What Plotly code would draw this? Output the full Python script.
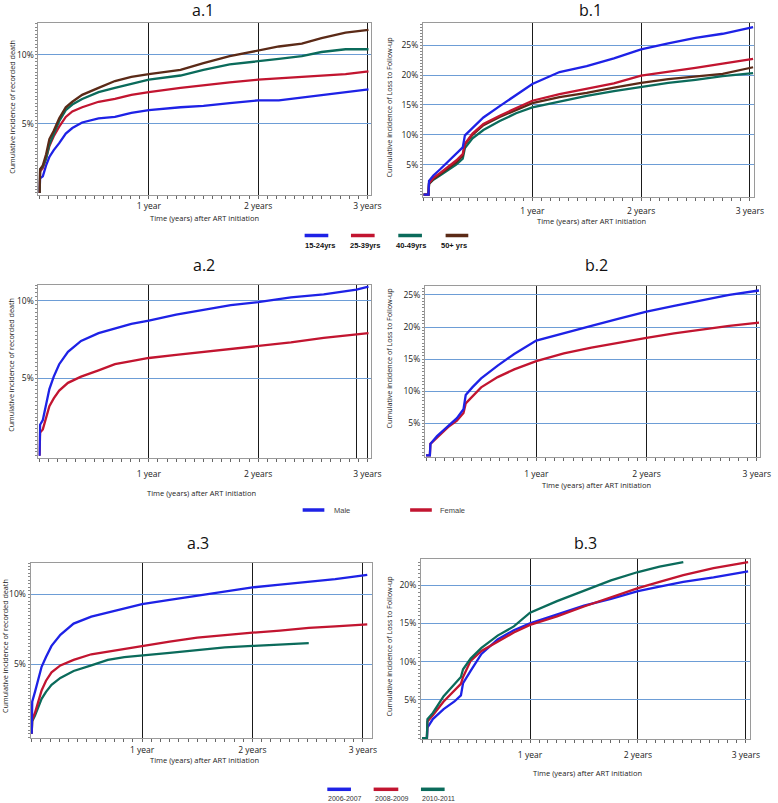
import plotly.graph_objects as go

W, H = 778, 803

BLUE = "#1e22e6"
RED = "#c21530"
TEAL = "#0b6b5b"
BROWN = "#5b2a17"
GRID_BLUE = "#6d9dd6"
VLINE = "#1a1a1a"
BOX = "#9a9a9a"
FONT = "Open Sans"

# ---------------- data (cumulative incidence, %) ----------------
# a.1  recorded death by age group
a1_t = [0, 0.005, 0.03, 0.06, 0.09, 0.13, 0.18, 0.24, 0.30, 0.39, 0.54, 0.69, 0.84, 1.0,
        1.29, 1.50, 1.74, 2.0, 2.19, 2.40, 2.58, 2.80, 3.01]
a1_15_24 = [0, 1.05, 1.2, 2.0, 2.6, 3.1, 3.6, 4.3, 4.7, 5.1, 5.4, 5.5, 5.8, 6.0,
            6.2, 6.3, 6.5, 6.7, 6.7, 6.9, 7.1, 7.3, 7.5]
a1_25_39 = [0, 1.55, 1.8, 2.5, 3.4, 4.1, 4.8, 5.5, 5.9, 6.2, 6.6, 6.8, 7.1, 7.3,
            7.6, 7.8, 8.0, 8.2, 8.3, 8.4, 8.5, 8.6, 8.8]
a1_40_49 = [0, 1.7, 1.9, 2.5, 3.5, 4.2, 5.2, 6.0, 6.4, 6.8, 7.3, 7.6, 7.9, 8.2,
            8.5, 8.9, 9.3, 9.5, 9.7, 9.9, 10.2, 10.4, 10.4]
a1_50p = [0, 1.7, 2.0, 2.8, 3.9, 4.5, 5.4, 6.2, 6.6, 7.1, 7.6, 8.1, 8.4, 8.6,
          8.9, 9.4, 9.9, 10.3, 10.6, 10.8, 11.2, 11.6, 11.8]

# b.1  loss to follow-up by age group
b1_t = [0, 0.045, 0.05, 0.09, 0.15, 0.22, 0.30, 0.36, 0.38, 0.45, 0.55, 0.7, 0.85, 1.0,
        1.25, 1.5, 1.75, 2.0, 2.25, 2.5, 2.75, 3.03]
b1_15_24 = [0, 0, 2.3, 3.2, 4.2, 5.4, 6.8, 7.9, 9.9, 11.2, 12.9, 14.8, 16.6, 18.5,
            20.5, 21.5, 22.8, 24.3, 25.3, 26.2, 26.9, 28.0]
b1_25_39 = [0, 0, 1.9, 2.8, 3.6, 4.6, 5.7, 6.8, 8.5, 10.2, 11.8, 13.2, 14.5, 15.7,
            16.8, 17.7, 18.6, 19.9, 20.5, 21.2, 21.9, 22.7]
b1_40_49 = [0, 0, 1.8, 2.5, 3.2, 4.1, 5.0, 6.0, 7.8, 9.4, 10.8, 12.3, 13.6, 14.6,
            15.6, 16.5, 17.3, 18.0, 18.7, 19.2, 19.8, 20.3]
b1_50p = [0, 0, 1.8, 2.6, 3.4, 4.4, 5.4, 6.5, 8.4, 10.0, 11.6, 13.0, 14.2, 15.3,
          16.3, 17.0, 17.9, 18.7, 19.3, 19.8, 20.2, 21.3]

# a.2  recorded death by sex
a2_t = [0, 0.005, 0.03, 0.06, 0.09, 0.13, 0.18, 0.26, 0.38, 0.54, 0.69, 0.84, 1.0,
        1.25, 1.5, 1.75, 2.0, 2.3, 2.6, 2.9, 3.01]
a2_male = [0, 2.0, 2.3, 3.3, 4.3, 5.1, 5.9, 6.7, 7.4, 7.9, 8.2, 8.5, 8.7,
           9.1, 9.4, 9.7, 9.9, 10.2, 10.4, 10.7, 10.9]
a2_female = [0, 1.5, 1.7, 2.5, 3.2, 3.7, 4.2, 4.7, 5.1, 5.5, 5.9, 6.1, 6.3,
             6.5, 6.7, 6.9, 7.1, 7.3, 7.6, 7.8, 7.9]

# b.2  loss to follow-up by sex
b2_t = [0, 0.035, 0.04, 0.1, 0.15, 0.2, 0.28, 0.34, 0.36, 0.42, 0.5, 0.65, 0.8, 1.0,
        1.25, 1.5, 1.75, 2.0, 2.25, 2.5, 2.75, 3.02]
b2_male = [0, 0, 1.8, 3.0, 3.8, 4.6, 5.8, 7.2, 9.4, 10.6, 12.0, 14.0, 15.8, 17.9,
           19.1, 20.2, 21.3, 22.4, 23.3, 24.1, 25.0, 25.7]
b2_female = [0, 0, 1.8, 2.8, 3.6, 4.4, 5.4, 6.6, 8.1, 9.2, 10.6, 12.2, 13.4, 14.7,
             15.9, 16.8, 17.6, 18.3, 19.0, 19.6, 20.2, 20.7]

# a.3  recorded death by period of ART initiation
a3_t = [0, 0.005, 0.03, 0.06, 0.09, 0.13, 0.18, 0.26, 0.38, 0.54, 0.69, 0.84, 1.0,
        1.25, 1.5, 1.75, 2.0, 2.25, 2.51, 2.75, 3.04]
a3_2006 = [0, 2.3, 3.0, 4.0, 4.8, 5.5, 6.3, 7.1, 7.9, 8.4, 8.7, 9.0, 9.3,
           9.6, 9.9, 10.2, 10.5, 10.7, 10.9, 11.1, 11.4]
a3_2008 = [0, 1.0, 1.5, 2.4, 3.1, 3.8, 4.4, 4.9, 5.3, 5.7, 5.9, 6.1, 6.3,
           6.6, 6.9, 7.1, 7.25, 7.4, 7.6, 7.7, 7.85]
a3_2010 = [0, 0.9, 1.3, 1.9, 2.5, 3.0, 3.5, 4.0, 4.5, 4.9, 5.3, 5.5, 5.6,
           5.8, 6.0, 6.2, 6.3, 6.4, 6.5, None, None]

# b.3  loss to follow-up by period of ART initiation
b3_t = [0, 0.045, 0.05, 0.1, 0.2, 0.3, 0.36, 0.38, 0.45, 0.55, 0.7, 0.85, 1.0,
        1.25, 1.5, 1.75, 2.0, 2.2, 2.42, 2.7, 3.02]
b3_2006 = [0, 0, 1.4, 2.5, 3.8, 4.8, 5.6, 7.2, 8.8, 11.0, 12.9, 14.1, 15.0,
           16.2, 17.3, 18.2, 19.2, 19.8, 20.4, 21.0, 21.8]
b3_2008 = [0, 0, 2.2, 3.0, 4.8, 6.2, 7.1, 8.0, 10.1, 11.4, 12.6, 13.8, 14.8,
           15.9, 17.2, 18.4, 19.6, 20.4, 21.3, 22.2, 23.0]
b3_2010 = [0, 0, 2.5, 3.3, 5.5, 7.0, 8.0, 9.0, 10.4, 11.8, 13.4, 14.6, 16.4,
           17.9, 19.3, 20.6, 21.7, 22.4, 23.0, None, None]

# labels
age_names = ["15-24yrs", "25-39yrs", "40-49yrs", "50+ yrs"]
sex_names = ["Male", "Female"]
period_names = ["2006-2007", "2008-2009", "2010-2011"]
year_ticks = [1, 2, 3]
year_labels = ["1 year", "2 years", "3 years"]
a2_vlines = [1, 2, 2.9, 3]
a2_vlabels = ["1 year", "2 years", "", "3 years"]
death_ticks = [5, 10]
ltfu_ticks = [5, 10, 15, 20, 25]
b3_ticks = [5, 10, 15, 20]

DEATH_TITLE = "Cumulative incidence of recorded death"
LTFU_TITLE = "Cumulative incidence of Loss to Follow-up"
X_TITLE = "Time (years) after ART initiation"

# ---------------- panels (pixel boxes: left, right, top, bottom) ----------------
panels = [
    dict(title="a.1", box=(39, 376, 23, 195), xr=[-0.01, 3.03], yr=[-0.15, 12.3],
         t=a1_t, series=[(a1_15_24, BLUE), (a1_25_39, RED), (a1_40_49, TEAL), (a1_50p, BROWN)],
         yt=death_ticks, xv=year_ticks, xl=year_labels, ytitle=DEATH_TITLE,
         tpos=(206, 10), xtpos=(207, 218), ytpos=(12, 107), xstand=3),
    dict(title="b.1", box=(429, 765, 23, 197), xr=[-0.006, 3.04], yr=[-0.4, 28.7],
         t=b1_t, series=[(b1_40_49, TEAL), (b1_50p, BROWN), (b1_25_39, RED), (b1_15_24, BLUE)],
         yt=ltfu_ticks, xv=year_ticks, xl=year_labels, ytitle=LTFU_TITLE,
         tpos=(599, 10), xtpos=(600, 221), ytpos=(395, 107), xstand=6),
    dict(title="a.2", box=(39, 376, 285, 458), xr=[-0.01, 3.03], yr=[-0.14, 11.0],
         t=a2_t, series=[(a2_female, RED), (a2_male, BLUE)],
         yt=death_ticks, xv=a2_vlines, xl=a2_vlabels, ytitle=DEATH_TITLE,
         tpos=(207, 265), xtpos=(204, 493), ytpos=(11, 365), xstand=8),
    dict(title="b.2", box=(431, 771, 286, 457), xr=[-0.01, 3.03], yr=[-0.25, 26.4],
         t=b2_t, series=[(b2_female, RED), (b2_male, BLUE)],
         yt=ltfu_ticks, xv=year_ticks, xl=year_labels, ytitle=LTFU_TITLE,
         tpos=(605, 265), xtpos=(605, 485), ytpos=(395, 358), xstand=9),
    dict(title="a.3", box=(31, 377, 563, 738), xr=[-0.01, 3.08], yr=[-0.31, 12.25],
         t=a3_t, series=[(a3_2010, TEAL), (a3_2008, RED), (a3_2006, BLUE)],
         yt=death_ticks, xv=year_ticks, xl=year_labels, ytitle=DEATH_TITLE,
         tpos=(201, 543), xtpos=(207, 760), ytpos=(5, 646), xstand=4),
    dict(title="b.3", box=(427, 761, 559, 739), xr=[-0.01, 3.04], yr=[-0.1, 23.4],
         t=b3_t, series=[(b3_2006, BLUE), (b3_2008, RED), (b3_2010, TEAL)],
         yt=b3_ticks, xv=year_ticks, xl=year_labels, ytitle=LTFU_TITLE,
         tpos=(594, 543), xtpos=(596, 773), ytpos=(395, 646), xstand=8),
]

fig = go.Figure()
annotations = []
shapes = []


def px_x(x):
    return x / W


def px_y(y):
    return 1 - y / H


for i, p in enumerate(panels):
    n = "" if i == 0 else str(i + 1)
    xa, ya = "xaxis" + n, "yaxis" + n
    left, right, top, bottom = p["box"]
    for vals, col in p["series"]:
        fig.add_trace(go.Scatter(x=p["t"], y=vals, mode="lines", xaxis="x" + n, yaxis="y" + n,
                                 line=dict(color=col, width=2.3), showlegend=False,
                                 connectgaps=False, hoverinfo="skip"))
    fig.layout[xa] = dict(
        domain=[px_x(left), px_x(right)], range=p["xr"], anchor="y" + n,
        tickmode="array", tickvals=p["xv"], ticktext=p["xl"], ticks="",
        showgrid=True, gridcolor=VLINE, gridwidth=1.3, zeroline=False,
        showline=True, linecolor=BOX, linewidth=1, mirror=True,
        tickfont=dict(family=FONT, size=8.5, color="#222"), ticklabelstandoff=p["xstand"],
        minor=dict(tickmode="linear", tick0=0, dtick=1 / 12, ticks="outside", ticklen=2.5,
                   tickcolor="#666", showgrid=False),
    )
    fig.layout[ya] = dict(
        domain=[px_y(bottom), px_y(top)], range=p["yr"], anchor="x" + n,
        tickmode="array", tickvals=p["yt"], ticktext=[f"{v}%" for v in p["yt"]], ticks="",
        showgrid=True, gridcolor=GRID_BLUE, gridwidth=1.2, zeroline=False,
        showline=True, linecolor=BOX, linewidth=1, mirror=True,
        tickfont=dict(family=FONT, size=8.5, color="#222"), ticklabelstandoff=2,
        minor=dict(tickmode="linear", tick0=0, dtick=0.25 if p["yr"][1] < 15 else 0.5,
                   ticks="outside", ticklen=2, tickcolor="#888", showgrid=False),
    )
    tx, ty = p["tpos"]
    annotations.append(dict(text=p["title"], x=px_x(tx), y=px_y(ty), xref="paper", yref="paper",
                            showarrow=False, xanchor="center", yanchor="middle", borderpad=0,
                            font=dict(family=FONT, size=16, color="#111")))
    xx, xy = p["xtpos"]
    annotations.append(dict(text=X_TITLE, x=px_x(xx), y=px_y(xy), xref="paper", yref="paper",
                            showarrow=False, xanchor="center", yanchor="middle",
                            font=dict(family=FONT, size=7.5, color="#222")))
    yx, yy = p["ytpos"]
    annotations.append(dict(text=p["ytitle"], x=px_x(yx), y=px_y(yy), xref="paper", yref="paper",
                            showarrow=False, xanchor="center", yanchor="middle", textangle=-90,
                            font=dict(family=FONT, size=7.2, color="#222")))

# ---------------- legends (swatch bars + labels) ----------------
leg1_colors = [BLUE, RED, TEAL, BROWN]
leg1_x = [(309, 333), (356, 380), (404, 428), (452, 475)]
leg1_lab_x = [325, 370, 417, 461]
for name, col, (x0, x1), lx in zip(age_names, leg1_colors, leg1_x, leg1_lab_x):
    shapes.append(dict(type="line", xref="paper", yref="paper", x0=px_x(x0), x1=px_x(x1),
                       y0=px_y(235.5), y1=px_y(235.5), line=dict(color=col, width=3.5)))
    annotations.append(dict(text="<b>" + name + "</b>", x=px_x(lx), y=px_y(245), xref="paper",
                            yref="paper", showarrow=False, xanchor="center", yanchor="middle",
                            font=dict(family="Liberation Sans", size=7.5, color="#111")))

leg2_colors = [BLUE, RED]
leg2_x = [(307, 329), (416, 438)]
leg2_lab_x = [337, 444]
for name, col, (x0, x1), lx in zip(sex_names, leg2_colors, leg2_x, leg2_lab_x):
    shapes.append(dict(type="line", xref="paper", yref="paper", x0=px_x(x0), x1=px_x(x1),
                       y0=px_y(510), y1=px_y(510), line=dict(color=col, width=3.5)))
    annotations.append(dict(text=name, x=px_x(lx), y=px_y(510.5), xref="paper", yref="paper",
                            showarrow=False, xanchor="left", yanchor="middle",
                            font=dict(family="Liberation Sans", size=7.5, color="#444")))

leg3_colors = [BLUE, RED, TEAL]
leg3_x = [(332, 356), (379, 404), (427, 451)]
for name, col, (x0, x1) in zip(period_names, leg3_colors, leg3_x):
    shapes.append(dict(type="line", xref="paper", yref="paper", x0=px_x(x0), x1=px_x(x1),
                       y0=px_y(789.3), y1=px_y(789.3), line=dict(color=col, width=3.5)))
    annotations.append(dict(text=name, x=px_x(x0), y=px_y(798.5), xref="paper", yref="paper",
                            showarrow=False, xanchor="left", yanchor="middle", borderpad=0,
                            font=dict(family="Liberation Sans", size=7, color="#333")))

fig.update_layout(
    width=W, height=H, margin=dict(l=0, r=0, t=0, b=0),
    paper_bgcolor="white", plot_bgcolor="white",
    annotations=annotations, shapes=shapes, showlegend=False,
    font=dict(family=FONT),
)

fig.write_html("out.html",
               config={"displayModeBar": False},
               post_script="document.body.style.margin='0px';"
                           "document.body.style.padding='0px';"
                           "document.body.style.overflow='hidden';")
